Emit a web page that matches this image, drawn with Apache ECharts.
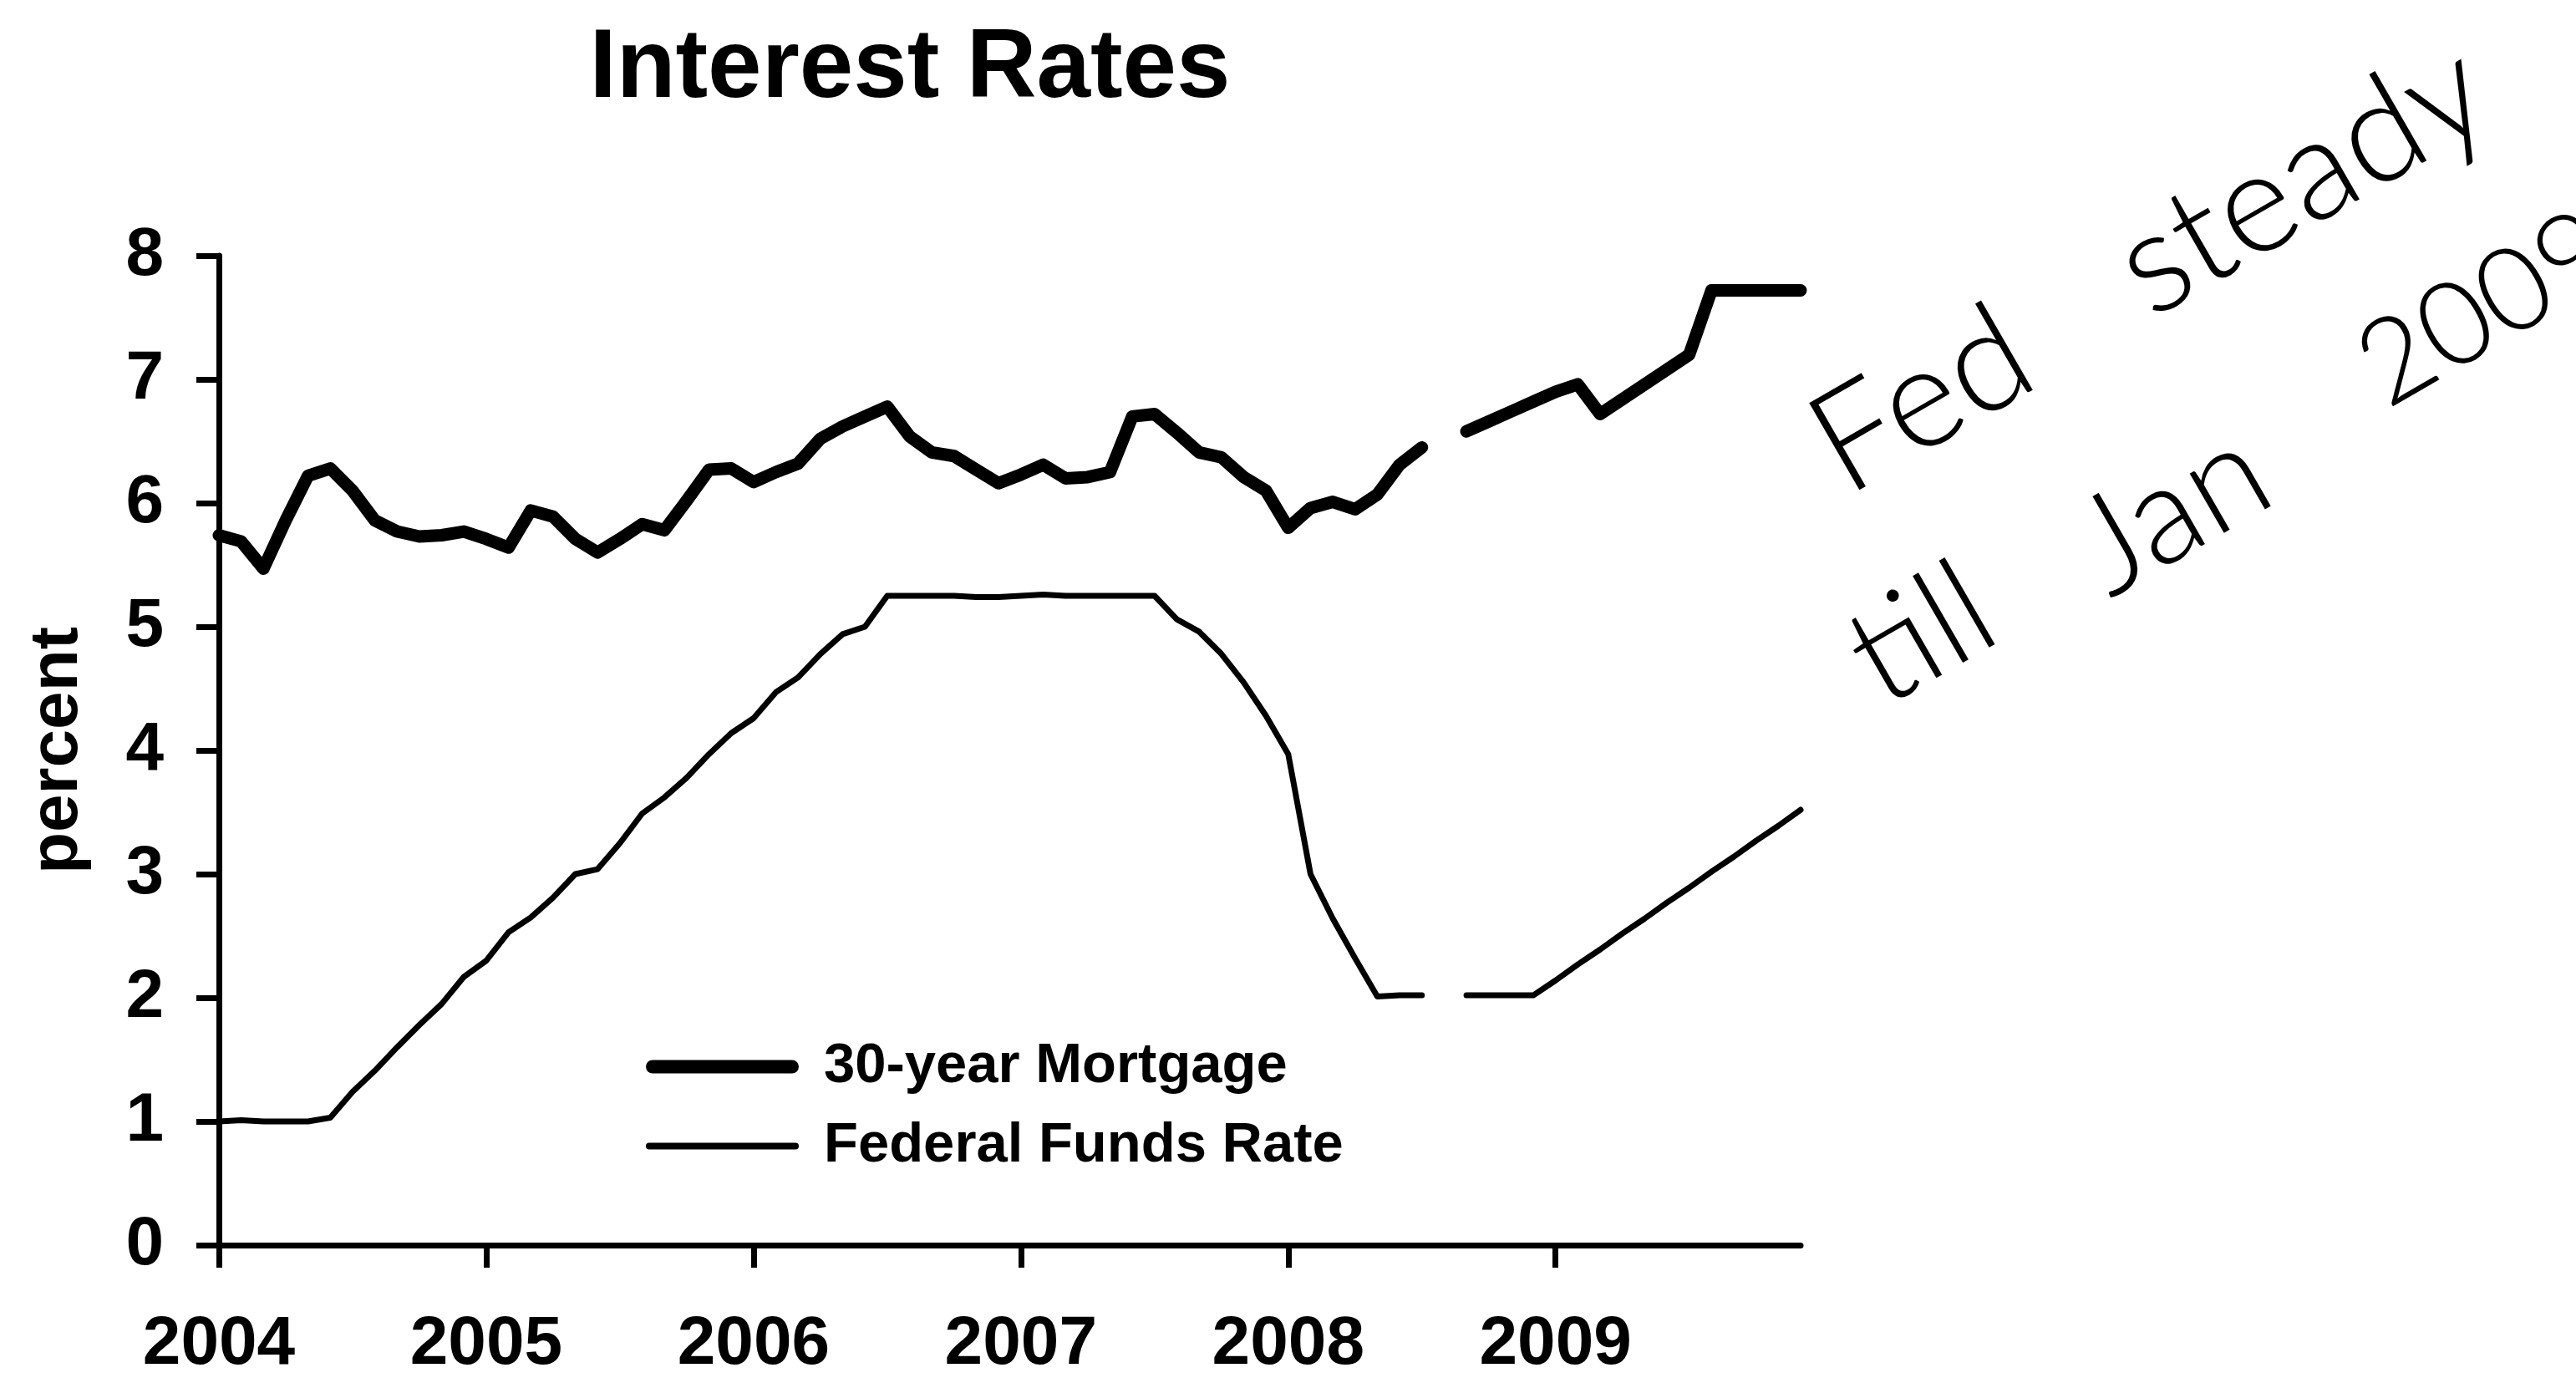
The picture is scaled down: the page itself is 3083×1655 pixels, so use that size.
<!DOCTYPE html>
<html>
<head>
<meta charset="utf-8">
<script src="https://cdn.jsdelivr.net/npm/echarts@6/dist/echarts.min.js"></script>
<style>
html,body{margin:0;padding:0;background:#fff;}
#chart{width:3083px;height:1655px;}
</style>
</head>
<body>
<div id="chart"></div>
<script>
// ---- data (monthly, Jan 2004 .. Dec 2009) ----
const years = ['2004','2005','2006','2007','2008','2009'];
const monthNames = ['01','02','03','04','05','06','07','08','09','10','11','12'];
const categories = [];
years.forEach(y => monthNames.forEach(m => categories.push(y + '-' + m)));

const mortgage30 = [
  5.74,5.69,5.47,5.86,6.22,6.28,6.10,5.86,5.77,5.73,5.74,5.77,
  5.71,5.64,5.94,5.89,5.71,5.60,5.71,5.83,5.78,6.02,6.27,6.28,
  6.17,6.25,6.32,6.52,6.62,6.70,6.78,6.54,6.41,6.38,6.27,6.16,
  6.23,6.31,6.20,6.21,6.25,6.70,6.72,6.57,6.41,6.37,6.21,6.10,
  5.80,5.96,6.01,5.95,6.07,6.31,6.45,null,6.58,6.66,6.74,6.82,
  6.90,6.96,6.72,6.84,6.96,7.08,7.20,7.72,7.72,7.72,7.72,7.72
];
const fedFunds = [
  1.00,1.01,1.00,1.00,1.00,1.03,1.24,1.41,1.60,1.78,1.95,2.17,
  2.30,2.53,2.65,2.81,3.00,3.04,3.25,3.49,3.62,3.78,3.97,4.14,
  4.26,4.47,4.59,4.78,4.94,5.00,5.25,5.25,5.25,5.25,5.24,5.24,
  5.25,5.26,5.25,5.25,5.25,5.25,5.25,5.06,4.96,4.78,4.55,4.28,
  3.97,3.00,2.64,2.32,2.01,2.02,2.02,null,2.02,2.02,2.02,2.02,
  2.14,2.27,2.39,2.52,2.64,2.77,2.89,3.02,3.14,3.27,3.39,3.52
];
const yTicks = [0,1,2,3,4,5,6,7,8];
const seriesNames = ['30-year Mortgage','Federal Funds Rate'];
const titleText = 'Interest Rates';
const yAxisName = 'percent';
const noteWords = ['Fed','steady','till','Jan','2009'];

// ---- chart ----
const FONT = '"Liberation Sans", Arial, Helvetica, sans-serif';
const HAND = 'Lato, "DejaVu Sans", sans-serif';
const chart = echarts.init(document.getElementById('chart'), null, {renderer:'canvas'});

function handText(word, x, y, size, rot){
  return {
    type:'text', x:x, y:y, rotation: rot,
    style:{text:word, fill:'#000', font:'300 ' + size + 'px ' + HAND,
           textAlign:'center', textVerticalAlign:'middle'}
  };
}
const R = Math.PI * 30 / 180;

const option = {
  backgroundColor:'#fff',
  animation:false,
  grid:{left:262, right:928, top:306, bottom:165, containLabel:false},
  legend:{
    orient:'vertical', left:768, top:1238, padding:5,
    itemWidth:183, itemHeight:16, itemGap:28,
    textStyle:{fontFamily:FONT, fontWeight:'bold', fontSize:67, color:'#000', padding:[0,0,0,25]},
    data:[
      {name:seriesNames[0], icon:'path://M8,0 L175,0 A8,8 0 0 1 175,16 L8,16 A8,8 0 0 1 8,0 Z', itemStyle:{color:'#000'}},
      {name:seriesNames[1], icon:'path://M4,0 L179,0 A4,4 0 0 1 179,8 L4,8 A4,4 0 0 1 4,0 Z', itemStyle:{color:'#000'}}
    ]
  },
  xAxis:{
    type:'category', data:categories, boundaryGap:false,
    axisLine:{lineStyle:{color:'#000', width:7}},
    axisTick:{show:true, length:27, lineStyle:{color:'#000', width:7}, interval:(i)=> i % 12 === 0},
    axisLabel:{
      interval:(i)=> i % 12 === 0,
      formatter:(v)=> years[years.indexOf(v.slice(0,4))],
      fontFamily:FONT, fontWeight:'bold', fontSize:82, color:'#000', margin:78
    },
    splitLine:{show:false}
  },
  yAxis:{
    type:'value', min:yTicks[0], max:yTicks[yTicks.length-1], interval:1,
    name:yAxisName, nameLocation:'middle', nameGap:152,
    nameTextStyle:{fontFamily:FONT, fontWeight:'bold', fontSize:82, color:'#000'},
    axisLine:{show:true, lineStyle:{color:'#000', width:7}},
    axisTick:{show:true, length:27, lineStyle:{color:'#000', width:7}},
    axisLabel:{fontFamily:FONT, fontWeight:'bold', fontSize:82, color:'#000', margin:66},
    splitLine:{show:false}
  },
  series:[
    {name:seriesNames[0], type:'line', data:mortgage30, showSymbol:false, symbol:'none',
     connectNulls:false, lineStyle:{color:'#000', width:15, cap:'round', join:'round'}, itemStyle:{color:'#000'}},
    {name:seriesNames[1], type:'line', data:fedFunds, showSymbol:false, symbol:'none',
     connectNulls:false, lineStyle:{color:'#000', width:7, cap:'round', join:'round'}, itemStyle:{color:'#000'}}
  ],
  graphic:[
    {type:'text', x:1089, y:84, style:{text:titleText, fill:'#000',
      font:'bold 116px ' + FONT, textAlign:'center', textVerticalAlign:'middle'}},
    handText(noteWords[0], 2300, 480, 170, R),
    handText(noteWords[1], 2755, 215, 170, R),
    handText(noteWords[2], 2300, 760, 165, R),
    handText(noteWords[3], 2600, 612, 165, R),
    handText(noteWords[4], 2975, 370, 140, R)
  ]
};
chart.setOption(option);
</script>
</body>
</html>
